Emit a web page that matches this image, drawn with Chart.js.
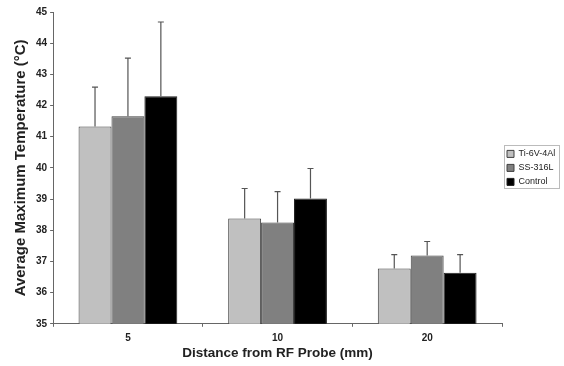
<!DOCTYPE html>
<html>
    <head>
        <meta charset="utf-8"/>
        <title>Average maximum temperature</title>
        <script src="https://cdn.jsdelivr.net/npm/chart.js@4"></script>
        <style>
            body { margin: 0; background: #fff; }
        </style>
    </head>
    <body>
        <canvas id="barchart" width="564" height="366"></canvas>
        <script>
            // values
            var distances = ['5', '10', '20'];
            var tiMean = [41.33, 38.38, 36.77];
            var tiErr = [1.26, 0.96, 0.45];
            var ssMean = [41.66, 38.25, 37.19];
            var ssErr = [1.86, 0.99, 0.45];
            var ctrlMean = [42.30, 39.02, 36.64];
            var ctrlErr = [2.38, 0.96, 0.58];

            var errbars = {
                id: 'errbars',
                afterDatasetsDraw: function(chart){
                    var c = chart.ctx;
                    var y = chart.scales.y;
                    c.save();
                    c.strokeStyle = '#555';
                    c.lineWidth = 1.2;
                    chart.data.datasets.forEach(function(ds, i){
                        var meta = chart.getDatasetMeta(i);
                        meta.data.forEach(function(bar, j){
                            var top = y.getPixelForValue(ds.data[j] + ds.err[j]);
                            c.beginPath();
                            c.moveTo(bar.x, bar.y);
                            c.lineTo(bar.x, top);
                            c.moveTo(bar.x - 3, top);
                            c.lineTo(bar.x + 3, top);
                            c.stroke();
                        });
                    });
                    c.restore();
                },
                afterDraw: function(chart){
                    // frame round the legend items
                    var boxes = chart.legend.legendHitBoxes;
                    if (!boxes || !boxes.length) return;
                    var l = Math.min.apply(null, boxes.map(function(b){ return b.left; }));
                    var t = Math.min.apply(null, boxes.map(function(b){ return b.top; }));
                    var b2 = Math.max.apply(null, boxes.map(function(b){ return b.top + b.height; }));
                    var c = chart.ctx;
                    c.save();
                    c.strokeStyle = '#bbb';
                    c.lineWidth = 1;
                    c.strokeRect(Math.round(l) - 2.5, Math.round(t) - 3.5, 55, b2 - t + 6);
                    c.restore();
                }
            };

            var tickFont = { family: 'Liberation Sans, Arial', size: 10, weight: 'bold' };

            var ctx = document.getElementById('barchart').getContext('2d');
            var myChart = new Chart(ctx, {
                type: 'bar',
                data: {
                    labels: distances,
                    datasets: [
                        { label: 'Ti-6V-4Al', data: tiMean, err: tiErr, backgroundColor: '#c0c0c0', borderColor: '#404040', borderWidth: 1 },
                        { label: 'SS-316L', data: ssMean, err: ssErr, backgroundColor: '#808080', borderColor: '#404040', borderWidth: 1 },
                        { label: 'Control', data: ctrlMean, err: ctrlErr, backgroundColor: '#000000', borderColor: '#202020', borderWidth: 1 }
                    ]
                },
                options: {
                    responsive: false,
                    animation: false,
                    layout: { padding: { top: 12, left: 12, bottom: 5, right: 4 } },
                    datasets: { bar: { categoryPercentage: 0.66, barPercentage: 1.0 } },
                    plugins: {
                        tooltip: { enabled: false },
                        legend: {
                            position: 'right',
                            fullSize: false,
                            maxWidth: 58,
                            labels: {
                                boxWidth: 7, boxHeight: 7, padding: 5,
                                color: '#222',
                                font: { family: 'Liberation Sans, Arial', size: 9 }
                            }
                        }
                    },
                    scales: {
                        x: {
                            grid: { drawOnChartArea: false, offset: true, tickLength: 3, color: '#666' },
                            border: { color: '#666' },
                            ticks: { color: '#222', padding: 5, font: tickFont },
                            title: { display: true, text: 'Distance from RF Probe (mm)', color: '#222', padding: { top: -4, bottom: 0 },
                                     font: { family: 'Liberation Sans, Arial', size: 13.5, weight: 'bold' } }
                        },
                        y: {
                            min: 35, max: 45,
                            grid: { drawOnChartArea: false, tickLength: 3, color: '#666' },
                            border: { color: '#666' },
                            ticks: { stepSize: 1, color: '#222', padding: 3, font: tickFont },
                            title: { display: true, text: 'Average Maximum Temperature (°C)', color: '#222', padding: { top: 0, bottom: 3 },
                                     font: { family: 'Liberation Sans, Arial', size: 15, weight: 'bold' } }
                        }
                    }
                },
                plugins: [errbars]
            });
        </script>
    </body>
</html>
